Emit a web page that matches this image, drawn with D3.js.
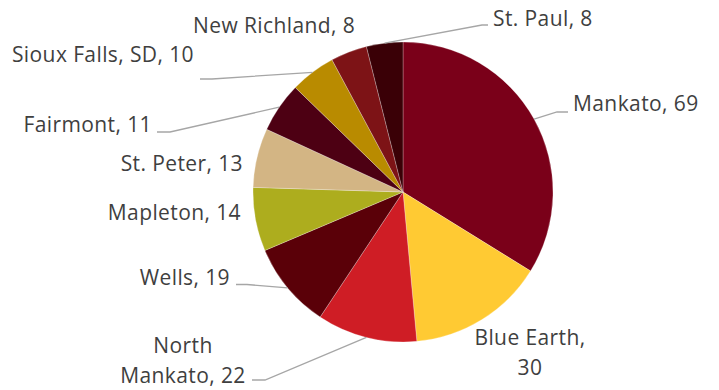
<!DOCTYPE html>
<html>
<head>
<meta charset="utf-8">
<script src="https://cdn.jsdelivr.net/npm/d3@7"></script>
<style>
  html, body { margin: 0; padding: 0; background: #fff; }
  svg { display: block; }
  .lbl { font-family: "Open Sans", sans-serif; font-size: 21px; letter-spacing: 0.4px; fill: #3F3F3F; }
</style>
</head>
<body>
<svg id="chart" width="719" height="390"></svg>
<script>
// Count by city
const categories = ["Mankato", "Blue Earth", "North Mankato", "Wells", "Mapleton",
                    "St. Peter", "Fairmont", "Sioux Falls, SD", "New Richland", "St. Paul"];
const values = [69, 30, 22, 19, 14, 13, 11, 10, 8, 8];
const colors = ["#7A0019", "#FFCA33", "#CF1D25", "#5A0008", "#ADAD1E",
                "#D3B584", "#4D0013", "#B98B00", "#7D1316", "#3A0006"];

// Label placement: anchor point, alignment, line breaks, optional leader elbow/end
const labelLayout = [
  { x: 573, y: 111, anchor: "start",  lines: ["Mankato, 69"],          leader: [[557, 112], [568, 112]] },
  { x: 530, y: 345, anchor: "middle", lines: ["Blue Earth,", "30"] },
  { x: 183, y: 353, anchor: "middle", lines: ["North", "Mankato, 22"],  leader: [[265, 380], [252, 380]] },
  { x: 230, y: 285, anchor: "end",    lines: ["Wells, 19"],            leader: [[247, 284.5], [236, 284.5]] },
  { x: 241, y: 220, anchor: "end",    lines: ["Mapleton, 14"] },
  { x: 243, y: 171, anchor: "end",    lines: ["St. Peter, 13"] },
  { x: 152, y: 132, anchor: "end",    lines: ["Fairmont, 11"],         leader: [[170, 132], [157, 132]] },
  { x: 194, y: 62,  anchor: "end",    lines: ["Sioux Falls, SD, 10"],  leader: [[212, 79], [200, 79]] },
  { x: 193, y: 33,  anchor: "start",  lines: ["New Richland, 8"] },
  { x: 493, y: 26,  anchor: "start",  lines: ["St. Paul, 8"],          leader: [[482, 25], [488, 25]] }
];

const cx = 403, cy = 192, radius = 150;
const svg = d3.select("#chart");
const g = svg.append("g").attr("transform", `translate(${cx},${cy})`);

const pie = d3.pie().sort(null).value(d => d.value);
const arc = d3.arc().innerRadius(0).outerRadius(radius);

const data = categories.map((c, i) => ({ name: c, value: values[i], color: colors[i], layout: labelLayout[i] }));
const arcs = pie(data);

g.selectAll("path.slice")
  .data(arcs)
  .join("path")
  .attr("class", "slice")
  .attr("d", arc)
  .attr("fill", d => d.data.color)
  .attr("stroke", "#fff")
  .attr("stroke-width", 0.5)
  .attr("stroke-opacity", 0.5);

// Leader lines from slice edge
const line = d3.line();
arcs.forEach(a => {
  const L = a.data.layout;
  if (!L.leader) return;
  const mid = (a.startAngle + a.endAngle) / 2;
  const edge = [cx + radius * Math.sin(mid), cy - radius * Math.cos(mid)];
  svg.append("path")
    .attr("d", line([edge, ...L.leader]))
    .attr("fill", "none")
    .attr("stroke", "#A6A6A6")
    .attr("stroke-width", 1.3);
});

// Labels
arcs.forEach(a => {
  const L = a.data.layout;
  const t = svg.append("text")
    .attr("class", "lbl")
    .attr("text-anchor", L.anchor)
    .attr("x", L.x)
    .attr("y", L.y);
  L.lines.forEach((s, i) => {
    t.append("tspan").attr("x", L.x).attr("dy", i === 0 ? 0 : 30).text(s);
  });
});
</script>
</body>
</html>
